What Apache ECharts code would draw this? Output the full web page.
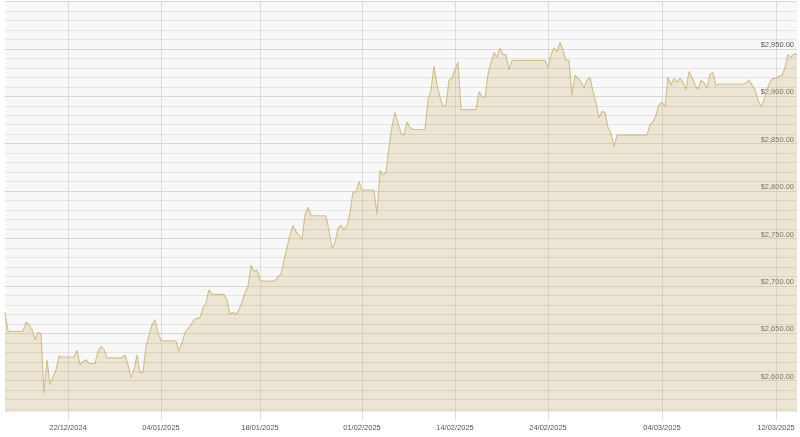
<!DOCTYPE html>
<html>
<head>
<meta charset="utf-8">
<script src="https://cdn.jsdelivr.net/npm/echarts@6/dist/echarts.min.js"></script>
<style>html,body{margin:0;padding:0;background:#fff}#c{width:800px;height:437px}</style>
</head>
<body>
<div id="c"></div>
<script>
// Price series (USD), evenly spaced samples
const prices = [
2672,2652,2652,2652,2652,2652,2652,2662,2659,2654,
2643,2651,2649,2587,2622,2596,2604,2611,2626,2625,
2625,2625,2625,2625,2632,2617,2620,2622,2618,2618,
2618,2631,2636,2633,2624,2624,2624,2624,2624,2624,
2627,2617,2603,2611,2627,2608,2609,2636,2648,2659,
2664,2651,2642,2642,2642,2642,2642,2642,2631,2640,
2651,2655,2659,2664,2666,2666,2677,2682,2696,2691,
2691,2691,2691,2691,2685,2670,2672,2670,2675,2683,
2693,2699,2722,2715,2717,2706,2705,2705,2705,2705,
2705,2710,2712,2727,2741,2754,2764,2757,2754,2749,
2775,2783,2774,2774,2774,2774,2774,2774,2759,2740,
2746,2761,2764,2759,2764,2777,2799,2799,2810,2801,
2801,2801,2801,2801,2775,2822,2817,2820,2847,2868,
2883,2872,2861,2859,2873,2867,2865,2865,2865,2865,
2865,2896,2907,2932,2912,2899,2889,2891,2917,2919,
2928,2936,2886,2886,2886,2886,2886,2886,2905,2899,
2899,2923,2936,2946,2941,2951,2944,2944,2928,2938,
2938,2938,2938,2938,2938,2938,2938,2938,2938,2938,
2938,2930,2944,2951,2947,2957,2949,2938,2938,2901,
2922,2919,2915,2909,2917,2920,2905,2893,2877,2884,
2883,2867,2861,2847,2859,2859,2859,2859,2859,2859,
2859,2859,2859,2859,2859,2870,2873,2880,2891,2894,
2889,2920,2912,2919,2915,2919,2915,2907,2926,2920,
2912,2907,2917,2914,2909,2923,2925,2911,2913,2913,
2913,2913,2913,2913,2913,2913,2913,2914,2917,2912,
2907,2896,2889,2896,2907,2915,2919,2919,2921,2922,
2930,2944,2941,2945,2944
];
// X tick labels and the sample index at which each appears
const tickLabels = ['22/12/2024','04/01/2025','18/01/2025','01/02/2025','14/02/2025','24/02/2025','04/03/2025','12/03/2025'];
const tickIndex = [21, 52, 85, 119, 150, 181, 219, 257];
// Y axis major (labelled) and minor grid values
const yMajor = [2600, 2650, 2700, 2750, 2800, 2850, 2900, 2950, 3000];
const yMinor = [2570,2580,2590,2610,2620,2630,2640,2660,2670,2680,2690,2710,2720,2730,2740,2760,2770,2780,2790,2810,2820,2830,2840,2860,2870,2880,2890,2910,2920,2930,2940,2960,2970,2980,2990];
const yMin = 2567, yMax = 3000;

// categories: dates interpolated between the labelled ticks
function parseD(s){const p=s.split('/');return Date.UTC(+p[2],+p[1]-1,+p[0]);}
function fmtD(t){const d=new Date(t);const z=n=>(n<10?'0':'')+n;return z(d.getUTCDate())+'/'+z(d.getUTCMonth()+1)+'/'+d.getUTCFullYear();}
const tickTimes = tickLabels.map(parseD);
const categories = prices.map((_, i) => {
  if (tickIndex.indexOf(i) >= 0) return tickLabels[tickIndex.indexOf(i)];
  let k = 0;
  while (k < tickIndex.length - 2 && i > tickIndex[k + 1]) k++;
  const t = tickTimes[k] + (i - tickIndex[k]) * (tickTimes[k + 1] - tickTimes[k]) / (tickIndex[k + 1] - tickIndex[k]);
  return fmtD(Math.round(t / 3600000) * 3600000) + ' ' + i;
});
const isTick = (idx) => tickIndex.indexOf(idx) >= 0;

const chart = echarts.init(document.getElementById('c'), null, {renderer: 'canvas'});
chart.setOption({
  animation: false,
  backgroundColor: '#ffffff',
  grid: {left: 5, right: 3, top: 1.5, bottom: 25, show: true, backgroundColor: '#f8f8f8', borderWidth: 0},
  xAxis: {
    type: 'category',
    data: categories,
    boundaryGap: false,
    axisLine: {show: false},
    axisTick: {show: true, interval: isTick, length: 8, lineStyle: {color: '#dcdcdc'}},
    axisLabel: {interval: isTick, margin: 12, fontSize: 7.5, color: '#555', fontFamily: 'Liberation Sans, Arial, sans-serif',
      formatter: (v, i) => tickLabels[tickIndex.indexOf(i)] || ''},
    splitLine: {show: true, interval: isTick, lineStyle: {color: '#dcdcdc', width: 1}}
  },
  yAxis: {
    type: 'value',
    position: 'right',
    min: yMin, max: yMax,
    axisLine: {show: false},
    axisTick: {show: false, customValues: yMajor},
    axisLabel: {
      customValues: yMajor.filter(v => v < 3000),
      inside: true, margin: 3, fontSize: 7.5, color: '#555', verticalAlign: 'bottom',
      fontFamily: 'Liberation Sans, Arial, sans-serif',
      formatter: v => '$' + v.toLocaleString('en-US', {minimumFractionDigits: 2, maximumFractionDigits: 2})
    },
    splitLine: {show: true, lineStyle: {color: '#d6d6d6', width: 1}}
  },
  series: [{
    type: 'line',
    data: [],
    z: 1,
    silent: true,
    markLine: {
      silent: true,
      symbol: 'none',
      animation: false,
      label: {show: false},
      lineStyle: {color: 'rgba(0,0,0,0.075)', type: 'solid', width: 1},
      data: yMinor.map(v => ({yAxis: v}))
    }
  }, {
    type: 'line',
    data: prices,
    showSymbol: false,
    smooth: false,
    lineStyle: {color: '#d4c292', width: 1.2},
    areaStyle: {color: 'rgba(210,188,136,0.45)'},
    z: 3
  }]
});
</script>
</body>
</html>
